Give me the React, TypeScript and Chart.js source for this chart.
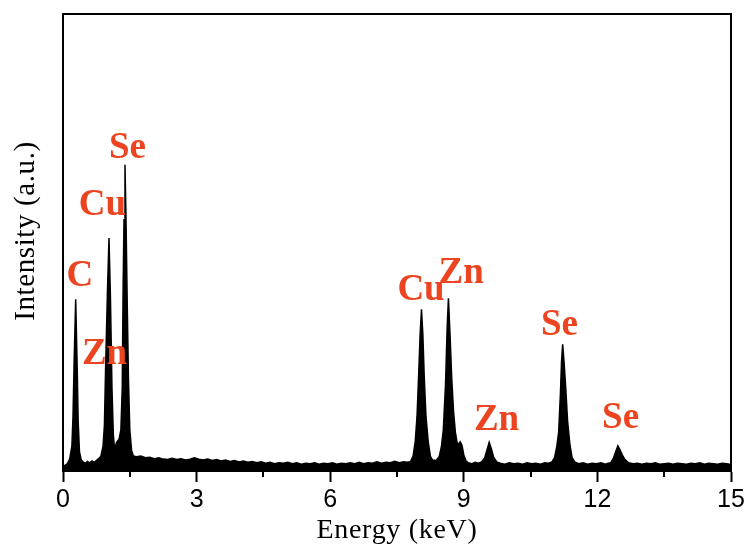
import React, { useEffect, useRef } from "react";
import { Chart, registerables } from "chart.js";

Chart.register(...registerables);

// Spectrum sample energies (keV)
const energies: number[] = [
  0.0, 0.05, 0.1, 0.15, 0.2, 0.225, 0.25, 0.285, 0.32, 0.34, 0.37, 0.41,
  0.45, 0.5, 0.55, 0.6, 0.65, 0.7, 0.75, 0.8,
  0.85, 0.9, 0.93, 0.96, 1.0, 1.033, 1.065, 1.1, 1.13, 1.16, 1.2, 1.26, 1.3, 1.33, 1.35, 1.37, 1.392, 1.415, 1.44, 1.47, 1.5, 1.54, 1.58,
  1.65, 1.75, 1.85, 1.95, 2.05, 2.15, 2.25, 2.35, 2.45, 2.55,
  2.65, 2.75, 2.85, 2.95, 3.05, 3.15, 3.25, 3.35, 3.45, 3.55,
  3.65, 3.75, 3.85, 3.95, 4.05, 4.15, 4.25, 4.35, 4.45, 4.55,
  4.65, 4.75, 4.85, 4.95, 5.05, 5.15, 5.25, 5.35, 5.45, 5.55,
  5.65, 5.75, 5.85, 5.95, 6.05, 6.15, 6.25, 6.35, 6.45, 6.55,
  6.65, 6.75, 6.85, 6.95, 7.05, 7.15, 7.25, 7.35, 7.45, 7.55,
  7.65, 7.72,
  7.8, 7.86, 7.91, 7.95, 7.99, 8.02, 8.05, 8.08, 8.11, 8.15, 8.2, 8.25, 8.3,
  8.38, 8.45, 8.5, 8.54, 8.59, 8.625, 8.655, 8.69, 8.73, 8.77, 8.81, 8.85, 8.88, 8.92, 8.96, 9.0, 9.05, 9.1,
  9.18, 9.26, 9.33, 9.4, 9.47, 9.52, 9.57, 9.62, 9.67, 9.74,
  9.82, 9.92, 10.02, 10.12, 10.22, 10.32, 10.42, 10.52, 10.62, 10.72, 10.82, 10.9,
  10.98, 11.04, 11.09, 11.13, 11.17, 11.195, 11.22, 11.25, 11.29, 11.33, 11.38, 11.43, 11.5,
  11.58, 11.68, 11.78, 11.88, 11.98, 12.08, 12.18, 12.24,
  12.3, 12.36, 12.41, 12.46, 12.5, 12.56, 12.62, 12.7,
  12.8, 12.9, 13.0, 13.1, 13.2, 13.3, 13.4, 13.5, 13.6, 13.7,
  13.8, 13.9, 14.0, 14.1, 14.2, 14.3, 14.4, 14.5, 14.6, 14.7,
  14.8, 14.9, 15.0,
];

// Intensity (a.u.) at each energy
const intensities: number[] = [
  0.9, 1.3, 1.6, 2.6, 5.5, 12, 24, 37.6, 22, 11, 4.2, 2.4,
  2.0, 1.7, 2.1, 1.8, 2.2, 1.9, 2.3, 2.7,
  3.2, 5.5, 10, 24, 40, 51, 38, 18, 8, 4.6, 6.2, 7, 9, 18, 40, 55, 67, 55, 38, 20, 9, 4.5, 3.3,
  3.1, 3.3, 2.9, 3.0, 2.7, 2.9, 2.6, 2.5, 2.8, 2.5,
  2.7, 2.4, 2.6, 2.9, 2.6, 2.4, 2.6, 2.3, 2.5, 2.2,
  2.4, 2.1, 2.3, 2.0, 2.2, 1.9, 2.1, 1.8, 2.0, 1.7,
  1.9, 1.6, 1.8, 1.7, 1.9, 1.6, 1.8, 1.5, 1.7, 1.6,
  1.8, 1.5, 1.7, 1.6, 1.8, 1.5, 1.7, 1.6, 1.8, 1.6,
  1.9, 1.6, 1.8, 1.7, 2.0, 1.7, 1.9, 1.8, 2.1, 1.8,
  2.0, 1.9,
  2.0, 3.2, 6.5, 12, 22, 30, 35.4, 30, 21, 12, 6.5, 3.2, 2.4,
  2.3, 3.2, 5.5, 9, 19, 31, 37.8, 30, 20, 13, 8.5, 6.2, 5.8, 6.4, 5.6, 3.5, 2.2, 1.8,
  1.6, 1.9, 1.7, 2.0, 2.9, 4.6, 6.3, 4.8, 3.0, 2.0,
  1.7, 1.5, 1.8, 1.6, 1.7, 1.5, 1.8, 1.6, 1.7, 1.5, 1.8, 1.7,
  2.0, 3.0, 5.5, 8.5, 17, 24, 27.7, 24, 18, 11, 6, 3.0, 1.9,
  1.6, 1.8, 1.5, 1.7, 1.6, 1.8, 1.5, 1.7,
  1.8, 2.8, 4.2, 5.5, 4.8, 3.5, 2.5, 1.8,
  1.6, 1.7, 1.5, 1.7, 1.6, 1.8, 1.5, 1.6, 1.7, 1.5,
  1.7, 1.6, 1.5, 1.7, 1.6, 1.8, 1.5, 1.7, 1.6, 1.5,
  1.7, 1.6, 1.4,
];

// Peak annotations (element name, anchor energy, anchor intensity)
const peakNames: string[] = ["C", "Cu", "Se", "Zn", "Cu", "Zn", "Zn", "Se", "Se"];
const peakLabelEnergies: number[] = [0.38, 0.887, 1.448, 0.932, 8.04, 8.94, 9.735, 11.15, 12.52];
const peakLabelValues: number[] = [42.5, 58.1, 70.6, 25.4, 39.5, 43.3, 11.05, 31.9, 11.5];

const xTicksMajor: number[] = [0, 3, 6, 9, 12, 15];
const xMinorTicks: number[] = [1.5, 4.5, 7.5, 10.5, 13.5];

const xTitle = "Energy (keV)";
const yTitle = "Intensity (a.u.)";

const LABEL_COLOR = "#EC4420";

const overlayPlugin = {
  id: "overlay",
  afterDraw(chart: any) {
    const { ctx, chartArea, scales } = chart;
    const xs = scales.x;
    const ys = scales.y;
    ctx.save();
    // frame
    ctx.strokeStyle = "#000";
    ctx.lineWidth = 2;
    ctx.strokeRect(chartArea.left, chartArea.top, chartArea.right - chartArea.left, chartArea.bottom - chartArea.top);
    // minor ticks
    ctx.beginPath();
    for (const v of xMinorTicks) {
      const px = Math.round(xs.getPixelForValue(v));
      ctx.moveTo(px, chartArea.bottom);
      ctx.lineTo(px, chartArea.bottom + 6);
    }
    ctx.stroke();
    // peak labels
    ctx.fillStyle = LABEL_COLOR;
    ctx.font = "bold 37px 'Liberation Serif'";
    ctx.textAlign = "center";
    ctx.textBaseline = "middle";
    for (let i = 0; i < peakNames.length; i++) {
      ctx.fillText(peakNames[i], xs.getPixelForValue(peakLabelEnergies[i]), ys.getPixelForValue(peakLabelValues[i]));
    }
    // axis titles
    ctx.fillStyle = "#000";
    ctx.textBaseline = "alphabetic";
    ctx.textAlign = "center";
    (ctx as any).letterSpacing = "0.7px";
    ctx.font = "28px 'Liberation Serif'";
    ctx.fillText(xTitle, (chartArea.left + chartArea.right) / 2, chartArea.bottom + 67);
    (ctx as any).letterSpacing = "0.6px";
    ctx.font = "29px 'Liberation Serif'";
    ctx.translate(34, 231);
    ctx.rotate(-Math.PI / 2);
    ctx.fillText(yTitle, 0, 0);
    ctx.restore();
  },
};

export default function App() {
  const canvasRef = useRef<HTMLCanvasElement | null>(null);

  useEffect(() => {
    if (!canvasRef.current) return;
    const points = energies.map((e, i) => ({ x: e, y: intensities[i] }));
    const chart = new Chart(canvasRef.current, {
      type: "line",
      data: {
        datasets: [
          {
            data: points,
            fill: "origin",
            backgroundColor: "#000",
            borderColor: "#000",
            borderWidth: 1.5,
            pointRadius: 0,
            tension: 0,
          },
        ],
      },
      options: {
        animation: false,
        responsive: true,
        maintainAspectRatio: false,
        layout: { padding: { left: 63, right: 18, top: 14, bottom: 0 } },
        plugins: { legend: { display: false }, tooltip: { enabled: false } },
        scales: {
          x: {
            type: "linear",
            min: 0,
            max: 15,
            afterBuildTicks: (s: any) => {
              s.ticks = xTicksMajor.map((v) => ({ value: v }));
            },
            afterFit: (s: any) => {
              s.height = 76;
            },
            ticks: {
              autoSkip: false,
              maxRotation: 0,
              padding: 3,
              color: "#000",
              font: { family: "'Liberation Sans'", size: 25 },
            },
            grid: {
              display: true,
              drawOnChartArea: false,
              drawTicks: true,
              tickLength: 11,
              tickWidth: 2,
              tickColor: "#000",
              color: "#000",
            },
            border: { display: true, color: "#000", width: 2 },
          },
          y: { display: false, min: 0, max: 100 },
        },
      },
      plugins: [overlayPlugin],
    });
    return () => chart.destroy();
  }, []);

  return (
    <div style={{ position: "absolute", left: 0, top: 0, width: 749, height: 547, background: "#fff" }}>
      <canvas ref={canvasRef} />
    </div>
  );
}
